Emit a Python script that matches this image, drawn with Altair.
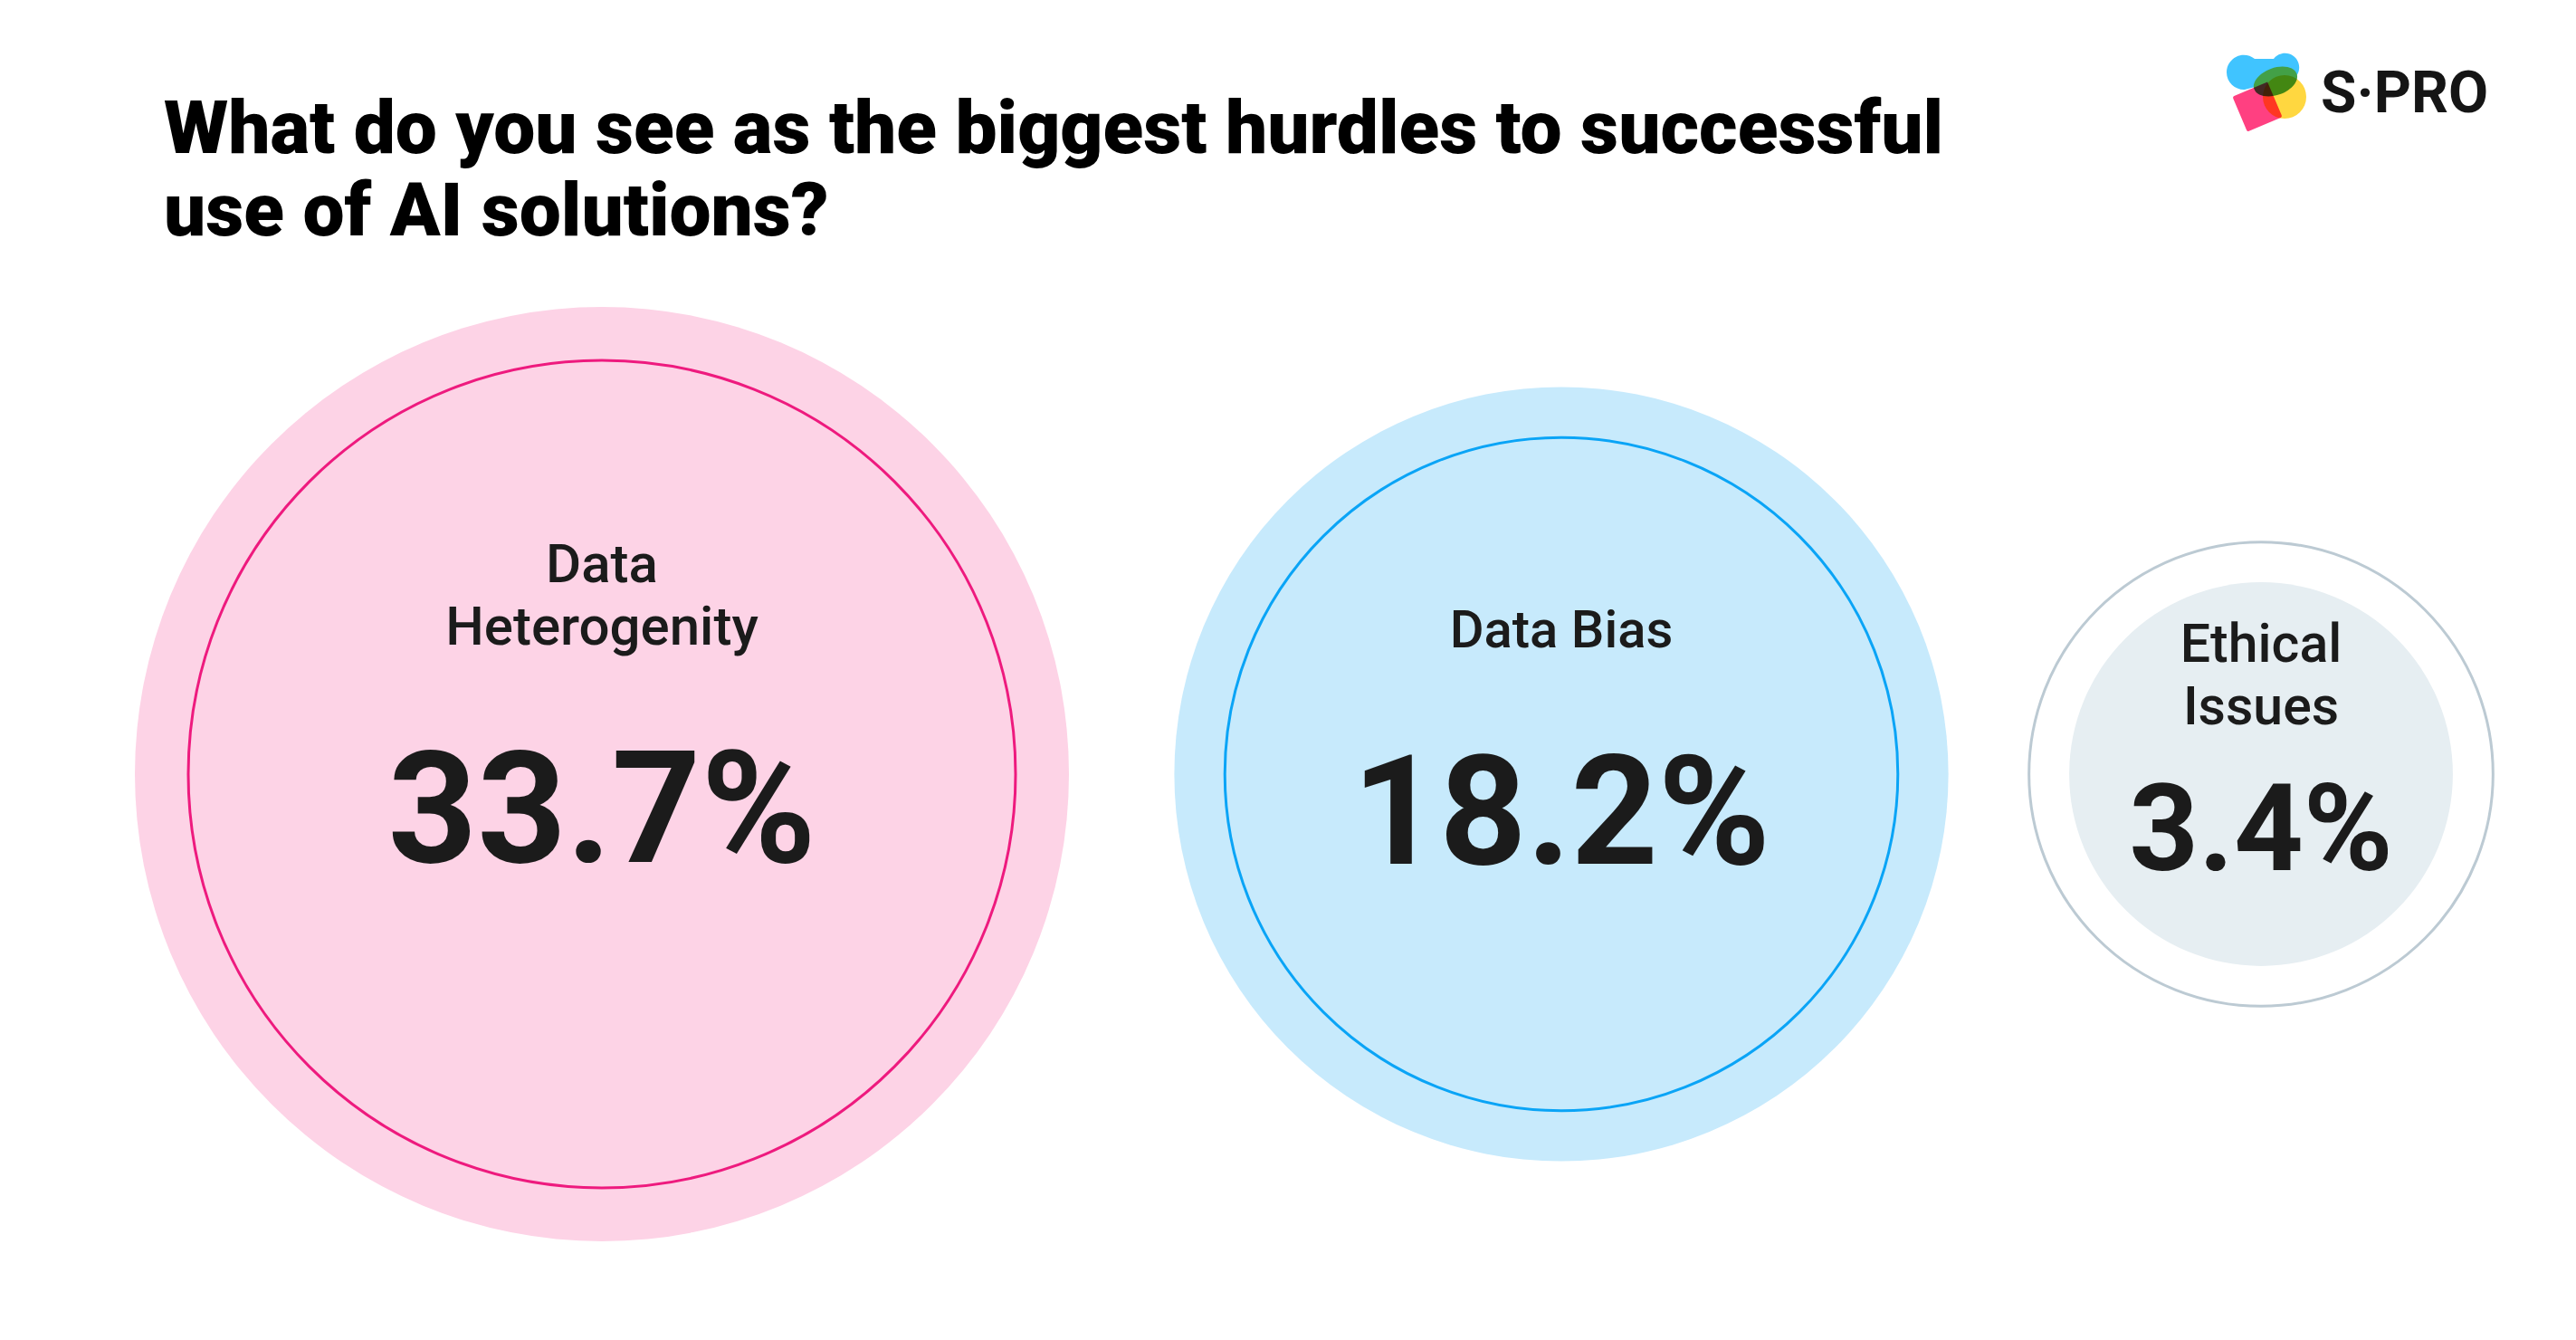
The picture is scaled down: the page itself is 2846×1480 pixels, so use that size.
import altair as alt
import pandas as pd

# ---------------- data ----------------
categories = ["Data Heterogenity", "Data Bias", "Ethical Issues"]
label_lines = [["Data", "Heterogenity"], ["Data Bias"], ["Ethical", "Issues"]]
values = [33.7, 18.2, 3.4]
title_lines = ["What do you see as the biggest hurdles to successful", "use of AI solutions?"]
brand = "S·PRO"

df = pd.DataFrame({"category": categories, "label": label_lines, "value": values})
vmax = max(values)
TEXT = "#1b1b1b"

# ---------------- per-panel styling ----------------
styles = {
    "Data Heterogenity": dict(width=1130, outer=("disc", "#fdd3e6"), inner=("ring", "#ee1a7e"),
                              label_dy=-212, label_size=60, value_dy=97, value_size=172),
    "Data Bias": dict(width=990, outer=("disc", "#c7eafc"), inner=("ring", "#0aa4f6"),
                      label_dy=-140, label_size=58, value_dy=99, value_size=168),
    "Ethical Issues": dict(width=556, outer=("ring", "#bccad3"), inner=("disc", "#e6eef2"),
                           label_dy=-124, label_size=59, value_dy=106, value_size=134),
}
ROW_H = 1110


def circle_props(kind, color):
    if kind == "disc":
        return dict(shape="circle", filled=True, fill=color, strokeWidth=0, opacity=1)
    return dict(shape="circle", filled=False, stroke=color, strokeWidth=3, opacity=1)


def panel(cat):
    st = styles[cat]
    base = alt.Chart(df).transform_filter(alt.datum.category == cat).encode(
        x=alt.X("category:N", axis=None, scale=alt.Scale(type="point")),
        y=alt.Y("category:N", axis=None, scale=alt.Scale(type="point")),
    )
    outer = base.mark_point(**circle_props(*st["outer"])).encode(
        size=alt.Size("value:Q", legend=None,
                      scale=alt.Scale(type="pow", exponent=0.61, domain=[0, vmax], range=[0, 1032 ** 2]))
    )
    inner = base.mark_point(**circle_props(*st["inner"])).encode(
        size=alt.Size("value:Q", legend=None,
                      scale=alt.Scale(type="pow", exponent=0.67, domain=[0, vmax], range=[0, 914 ** 2]))
    )
    label = base.mark_text(font="Roboto", fontWeight=500, fontSize=st["label_size"], lineHeight=69,
                           align="center", baseline="alphabetic", dy=st["label_dy"], color=TEXT
                           ).encode(text=alt.Text("label:N"))
    value = base.transform_calculate(vt="format(datum.value, '.1f') + '%'").mark_text(
        font="Roboto", fontWeight=700, fontSize=st["value_size"], align="center",
        baseline="alphabetic", dy=st["value_dy"], color=TEXT
    ).encode(text=alt.Text("vt:N"))
    return alt.layer(outer, inner, label, value).resolve_scale(size="independent").properties(
        width=st["width"], height=ROW_H)


row = alt.hconcat(*[panel(c) for c in categories], spacing=0).resolve_scale(size="independent")

# ---------------- header: title + logo ----------------
hdf = pd.DataFrame({"k": [0]})
hbase = alt.Chart(hdf)
title = hbase.mark_text(font="Roboto", fontWeight=900, fontSize=82, lineHeight=91, align="left",
                        baseline="alphabetic", color="#000000").encode(
    x=alt.value(81), y=alt.value(169), text=alt.value(title_lines))
logo_text = hbase.mark_text(font="Roboto", fontWeight=700, fontSize=64, align="left",
                            baseline="alphabetic", color="#151515").encode(
    x=alt.value(2464), y=alt.value(124), text=alt.value(brand))
blue_path = "M 0,20 A 19,19 0 0 1 31,5 L 52,5 A 14,14 0 0 1 77,24 L 20,39 A 19,19 0 0 1 0,20 Z"
blue = hbase.mark_point(shape=blue_path, filled=True, fill="#40c4ff", strokeWidth=0, opacity=1, size=4).encode(
    x=alt.value(2360), y=alt.value(60))
ellipse = "M -25,0 A 25,15 0 1 0 25,0 A 25,15 0 1 0 -25,0 Z"
green = hbase.mark_point(shape=ellipse, filled=True, fill="#43a047", strokeWidth=0, opacity=1, size=4,
                         angle=340).encode(x=alt.value(2414), y=alt.value(90))
square = "M -19,-21 Q -21,-21 -21,-19 L -21,19 Q -21,21 -19,21 L 19,21 Q 21,21 21,19 L 21,-21 Z"
pink = hbase.mark_point(shape=square, filled=True, fill="#ff4081", strokeWidth=0, opacity=1, size=4,
                        angle=337, blend="multiply").encode(x=alt.value(2394), y=alt.value(118))
yellow = hbase.mark_point(shape="circle", filled=True, fill="#ffd740", strokeWidth=0, opacity=1, size=2304,
                          blend="multiply").encode(x=alt.value(2424), y=alt.value(107))
header = alt.layer(title, logo_text, blue, green, pink, yellow).properties(width=2676, height=300)

chart = alt.vconcat(header, row, spacing=0).properties(
    padding={"left": 100, "top": 0, "right": 0, "bottom": 0},
    background="white",
).configure_view(stroke=None)

chart.save("out.html", embed_options={"renderer": "svg", "actions": False})
